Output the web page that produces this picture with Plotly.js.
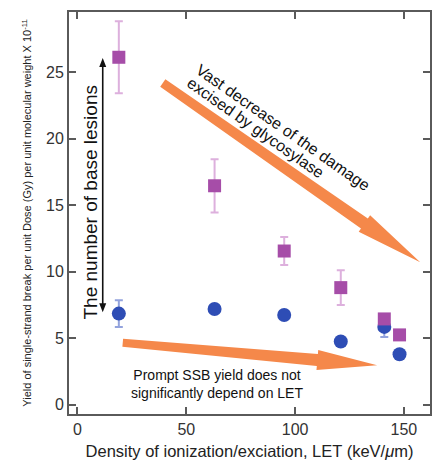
<!DOCTYPE html>
<html>
<head>
<meta charset="utf-8">
<script src="https://cdn.plot.ly/plotly-3.0.1.min.js"></script>
<style>html,body{margin:0;padding:0;background:#fff;}#chart{width:432px;height:464px;}</style>
</head>
<body>
<div id="chart"></div>
<script>
// LET values (keV/µm)
const letValues = [19, 63, 95, 121, 141, 148];
// Total yield incl. base lesions (purple squares)
const totalYield = [26.1, 16.45, 11.55, 8.8, 6.45, 5.25];
const totalErr = [2.7, 2.0, 1.05, 1.3, 0.35, 0];
// Prompt SSB yield (blue circles)
const promptYield = [6.85, 7.2, 6.75, 4.75, 5.85, 3.8];
const promptErr = [1.0, 0, 0, 0, 0.75, 0];
const xTicks = [0, 50, 100, 150];
const yTicks = [0, 5, 10, 15, 20, 25];

const orange = '#F5884A';
const frame = '#5a5a5a';

const W = 432, H = 464;
const M = {l: 69, r: 2, t: 12, b: 50};
const xr = [-3.9, 162], yr = [-0.69, 29.5];
const pw = W - M.l - M.r, ph = H - M.t - M.b;

// build a tapered arrow polygon (drawn in pixel space, expressed in data coords)
function arrowPath(x0, y0, x1, y1, wTail, wBase, headLen, headHalf) {
  const toPx = (x, y) => [(x - xr[0]) / (xr[1] - xr[0]) * pw, (yr[1] - y) / (yr[1] - yr[0]) * ph];
  const toData = (p) => [xr[0] + p[0] / pw * (xr[1] - xr[0]), yr[1] - p[1] / ph * (yr[1] - yr[0])];
  const a = toPx(x0, y0), b = toPx(x1, y1);
  const dx = b[0] - a[0], dy = b[1] - a[1], len = Math.hypot(dx, dy);
  const ux = dx / len, uy = dy / len, nx = -uy, ny = ux;
  const base = [b[0] - ux * headLen, b[1] - uy * headLen];
  const pts = [
    [a[0] + nx * wTail / 2, a[1] + ny * wTail / 2],
    [base[0] + nx * wBase / 2, base[1] + ny * wBase / 2],
    [base[0] + nx * headHalf, base[1] + ny * headHalf],
    b,
    [base[0] - nx * headHalf, base[1] - ny * headHalf],
    [base[0] - nx * wBase / 2, base[1] - ny * wBase / 2],
    [a[0] - nx * wTail / 2, a[1] - ny * wTail / 2]
  ].map(toData);
  return 'M' + pts.map(p => p[0].toFixed(3) + ',' + p[1].toFixed(3)).join('L') + 'Z';
}

const traces = [
  {
    x: letValues, y: promptYield, type: 'scatter', mode: 'markers',
    marker: {symbol: 'circle', size: 14, color: '#2E4DB5'},
    error_y: {type: 'data', array: promptErr, visible: true, color: '#93A3DD', thickness: 2, width: 4},
    showlegend: false, hoverinfo: 'skip'
  },
  {
    x: letValues, y: totalYield, type: 'scatter', mode: 'markers',
    marker: {symbol: 'square', size: 13, color: '#A64DA8'},
    error_y: {type: 'data', array: totalErr, visible: true, color: '#DDB0DD', thickness: 2, width: 4},
    showlegend: false, hoverinfo: 'skip'
  }
];

const layout = {
  width: W, height: H,
  margin: M,
  paper_bgcolor: '#fff', plot_bgcolor: '#fff',
  font: {family: 'Liberation Sans, Arial, sans-serif', color: '#333'},
  xaxis: {
    range: xr, tickvals: xTicks, ticktext: xTicks.map(String),
    ticks: 'inside', ticklen: 7, tickwidth: 2, tickcolor: frame,
    showline: true, linecolor: frame, linewidth: 2, mirror: 'ticks',
    showgrid: false, zeroline: false,
    tickfont: {size: 16, color: '#333'},
    title: {text: 'Density of ionization/exciation, LET (keV/<i>μ</i>m)', font: {size: 16.5, color: '#222'}, standoff: 8}
  },
  yaxis: {
    range: yr, tickvals: yTicks, ticktext: yTicks.map(String),
    ticks: 'inside', ticklen: 7, tickwidth: 2, tickcolor: frame,
    showline: true, linecolor: frame, linewidth: 2, mirror: 'ticks',
    showgrid: false, zeroline: false,
    tickfont: {size: 16, color: '#333'},
    title: {text: 'Yield of single-strand break per unit Dose (Gy) per unit molecular weight X 10<sup>-11</sup>', font: {size: 11, family: 'Liberation Sans Narrow, Arial Narrow, sans-serif', color: '#222'}, standoff: 12}
  },
  shapes: [
    // double-headed black arrow (two halves from the middle)
    {type: 'path', xref: 'x', yref: 'y', path: arrowPath(11.6, 16.5, 11.6, 26.05, 1.6, 1.6, 9, 3.5),
     fillcolor: '#111', line: {width: 0}, layer: 'above'},
    {type: 'path', xref: 'x', yref: 'y', path: arrowPath(11.6, 16.5, 11.6, 6.95, 1.6, 1.6, 9, 3.5),
     fillcolor: '#111', line: {width: 0}, layer: 'above'},
    // orange arrows
    {type: 'path', xref: 'x', yref: 'y', path: arrowPath(39.2, 24.17, 157.5, 10.7, 9, 12, 68, 10),
     fillcolor: orange, line: {width: 0}, layer: 'above'},
    {type: 'path', xref: 'x', yref: 'y', path: arrowPath(20.8, 4.66, 137.7, 2.97, 8, 12, 60, 10),
     fillcolor: orange, line: {width: 0}, layer: 'above'}
  ],
  annotations: [
    {x: 5.8, y: 15.2, xref: 'x', yref: 'y', text: 'The number of base lesions', showarrow: false,
     textangle: -90, font: {size: 19, color: '#111'}},
    {x: 94.4, y: 20.8, xref: 'x', yref: 'y', text: 'Vast decrease of the damage', showarrow: false,
     textangle: 35, font: {size: 16, color: '#111'}},
    {x: 81.6, y: 20.8, xref: 'x', yref: 'y', text: 'excised by glycosylase', showarrow: false,
     textangle: 35, font: {size: 16, color: '#111'}},
    {x: 64, y: 1.6, xref: 'x', yref: 'y', text: 'Prompt SSB yield does not<br>significantly depend on LET', showarrow: false,
     font: {size: 14, color: '#111'}}
  ]
};

Plotly.newPlot('chart', traces, layout, {staticPlot: true, displayModeBar: false});
</script>
</body>
</html>
